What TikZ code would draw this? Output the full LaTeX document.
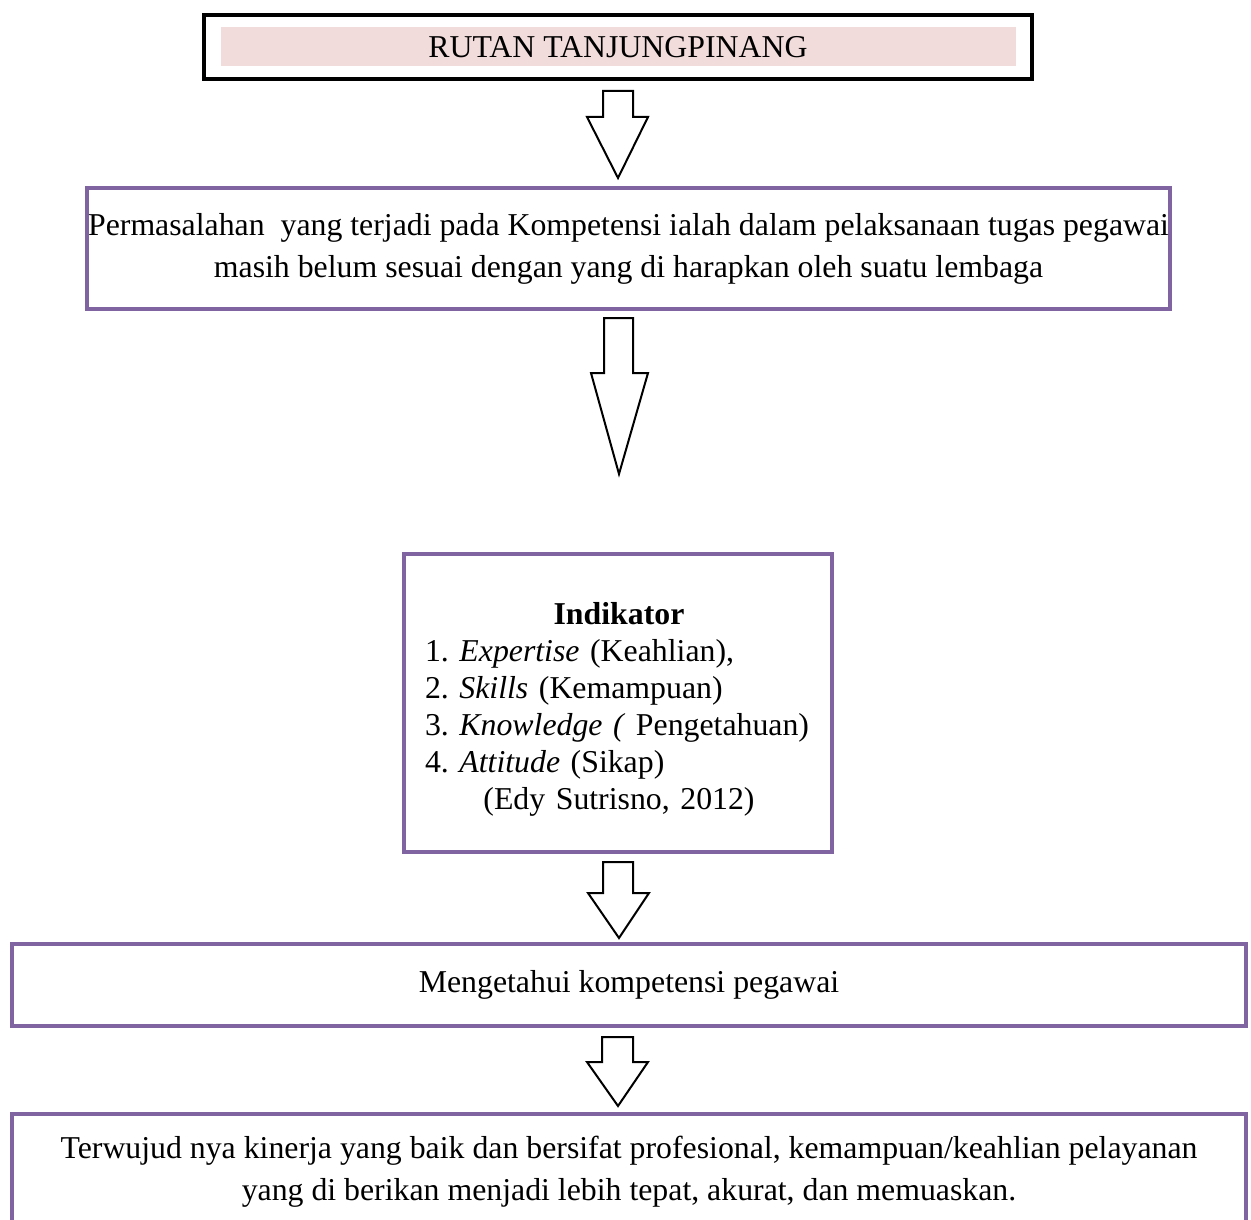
\documentclass[tikz,border=0pt]{standalone}
\usepackage{fontspec}
\setmainfont{Liberation Serif}
\definecolor{boxpurple}{HTML}{8064A2}
\definecolor{rutanpink}{HTML}{F2DCDB}
\tikzset{
  purplebox/.style={draw=boxpurple, line width=4pt, rectangle, inner sep=0pt, align=center},
  blockarrow/.style={draw=black, line width=2pt, fill=white, line join=miter},
}
\begin{document}
\frenchspacing\hyphenpenalty=10000
\begin{tikzpicture}[x=1pt,y=-1pt,font=\fontsize{31.8}{42}\selectfont]
\clip (0,0) rectangle (1251,1220);
\fill[white] (0,0) rectangle (1251,1220);
% judul
\node[draw=black, line width=4pt, minimum width=828pt, minimum height=64pt, inner sep=0pt] (rutan) at (618,47) {};
\node[fill=rutanpink, minimum width=795pt, minimum height=39pt, inner sep=0pt] (rutanlabel) at (rutan.center) {RUTAN TANJUNGPINANG};
% kotak masalah
\node[purplebox, minimum width=1083pt, minimum height=121pt] (masalah) at (628.5,248.5)
  {Permasalahan\ \ yang terjadi pada Kompetensi ialah dalam pelaksanaan tugas pegawai\\
   masih belum sesuai dengan yang di harapkan oleh suatu lembaga};
% indikator
\node[purplebox, minimum width=428pt, minimum height=298pt] (indikator) at (618,703) {};
\node[text width=388pt, align=left, inner sep=0pt,
      font=\fontsize{31.8}{37}\selectfont] (indikatorteks) at (619,709)
  {{\centering\bfseries Indikator\par}
   1. \textit{Expertise} (Keahlian),\\
   2. \textit{Skills} (Kemampuan)\\
   3. \textit{Knowledge (} Pengetahuan)\\
   4. \textit{Attitude} (Sikap)\par
   {\centering (Edy Sutrisno, 2012)\par}};
% tujuan dan hasil
\node[purplebox, minimum width=1234pt, minimum height=82pt] (tujuan) at (629,985)
  {Mengetahui kompetensi pegawai};
\node[purplebox, minimum width=1234pt, minimum height=116pt] (hasil) at (629,1172)
  {Terwujud nya kinerja yang baik dan bersifat profesional, kemampuan/keahlian pelayanan\\
   yang di berikan menjadi lebih tepat, akurat, dan memuaskan.};
% panah blok
\foreach \top/\sh/\tip/\sl/\sr/\hl/\hr/\tx in
  {91/117/178/603/633/587/648/618, 318/373/474/604/633/591/648/619,
   862/893/938/603/633/588/649/619, 1037/1062/1106/602/633/587/648/618}
  \draw[blockarrow] (\sl,\top) -- (\sr,\top) -- (\sr,\sh) -- (\hr,\sh) -- (\tx,\tip)
    -- (\hl,\sh) -- (\sl,\sh) -- cycle;
\end{tikzpicture}
\end{document}
